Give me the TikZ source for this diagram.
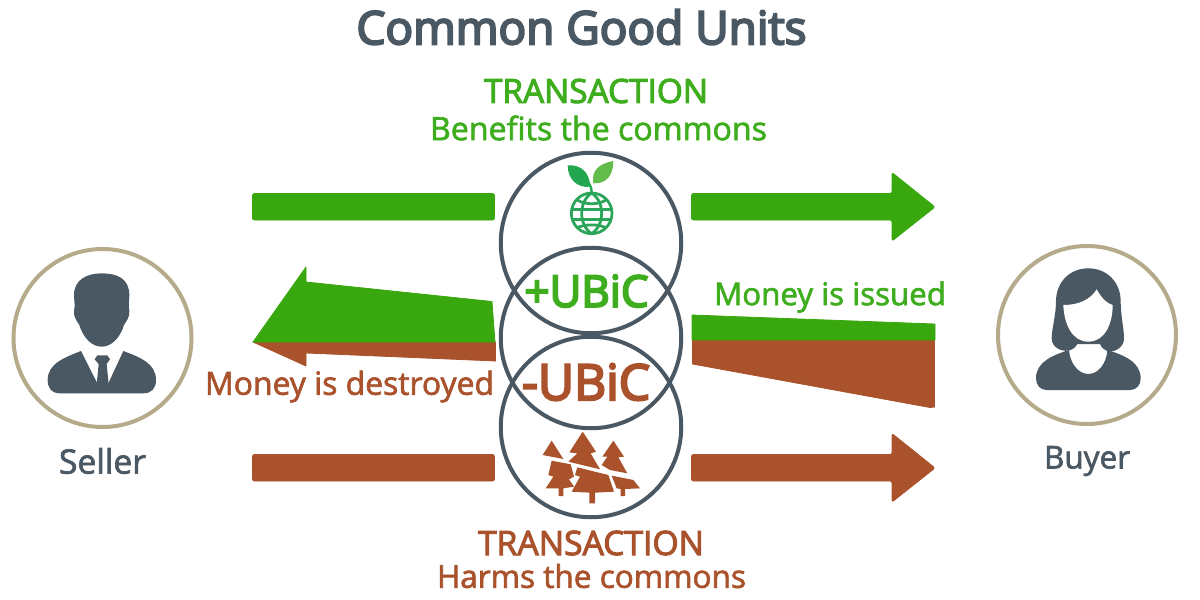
\documentclass[tikz,border=0pt]{standalone}
\usepackage{fontspec}
\usepackage{graphicx}
\setmainfont{Open Sans}
\newfontfamily\medf[FakeBold=2]{Open Sans}
\newfontfamily\semif[FakeBold=3]{Open Sans}
\newfontfamily\boldf[FakeBold=4.5]{Open Sans}
\definecolor{slate}{HTML}{4A5864}
\definecolor{tan}{HTML}{B5AA8A}
\definecolor{gbar}{HTML}{39A80E}
\definecolor{gtxt}{HTML}{3FAE1E}
\definecolor{brn}{HTML}{A9522B}
\definecolor{globeg}{HTML}{2BA55A}
\definecolor{leafa}{HTML}{22A650}
\definecolor{leafb}{HTML}{62BC4C}
\newcommand{\fit}[2]{\resizebox{\dimexpr#1pt*3/4\relax}{!}{#2}}
\tikzset{
  lab/.style={inner sep=0pt,anchor=center},
  ring/.style={draw=slate,line width=3pt,fill=none},
  person/.style={draw=tan,line width=3pt,fill=white},
  gfill/.style={fill=gbar,draw=gbar,line width=.6pt,line join=round},
  bfill/.style={fill=brn,draw=brn,line width=.6pt,line join=round},
}
\begin{document}
\begin{tikzpicture}[x=0.75pt,y=-0.75pt]
\useasboundingbox (0,0) rectangle (1200,600);
\fill[white] (0,0) rectangle (1200,600);
% texts
\node[lab,text=slate] (title) at (581.5,27) {\fit{450}{\boldf Common Good Units}};
\node[lab,text=gtxt] (t1) at (596,91) {\fit{224}{\semif TRANSACTION}};
\node[lab,text=gtxt] (t2) at (598.5,128) {\fit{337}{\medf Benefits the commons}};
\node[lab,text=brn] (t3) at (591,543) {\fit{226}{\semif TRANSACTION}};
\node[lab,text=brn] (t4) at (591.5,576) {\fit{309}{\medf Harms the commons}};
\node[lab,text=gtxt] (issued) at (830,297) {\fit{232}{\medf Money is issued}};
\node[lab,text=brn] (destroyed) at (349.5,386.5) {\fit{289}{\medf Money is destroyed}};
\node[lab,text=slate] (seller) at (102.5,461) {\fit{87}{\medf Seller}};
\node[lab,text=slate] (buyer) at (1087,461) {\fit{86}{\medf Buyer}};
% bars
\fill[gfill,rounded corners=1.5pt] (252.5,193.5) rectangle (494.5,220);
\fill[bfill,rounded corners=1.5pt] (252.5,454.5) rectangle (494.5,481);
\fill[gfill,rounded corners=1.5pt] (691.5,193.5) -- (892,193.5) -- (892,172.5) -- (935,207) -- (892,241) -- (892,220) -- (691.5,220) -- cycle;
\fill[bfill,rounded corners=1.5pt] (691.5,454.5) -- (892,454.5) -- (892,433.5) -- (935,468) -- (892,502) -- (892,481) -- (691.5,481) -- cycle;
% middle left
\fill[bfill] (253,342) -- (495.5,342) -- (495.5,361) -- (306,353) -- (306,366) -- cycle;
\fill[gfill] (253,342) -- (306,267) -- (306,282) -- (492,301.5) -- (495,342) -- cycle;
% middle right
\fill[bfill] (692.5,340) -- (934.5,340) -- (934.5,407) -- (930,407.5) -- (692.5,364) -- cycle;
\fill[gfill] (692,315) -- (935,324) -- (935,340) -- (692,340) -- cycle;
% rings
\node[ring,circle,minimum size=180.5*0.75pt,inner sep=0pt] (c1) at (591,243) {};
\node[ring,circle,minimum size=180.5*0.75pt,inner sep=0pt] (c2) at (591,338) {};
\node[ring,circle,minimum size=180.5*0.75pt,inner sep=0pt] (c3) at (591,427) {};
\node[lab,text=gtxt] (plus) at (586.5,291) {\fit{124}{\boldf +UBiC}};
\node[lab,text=brn] (minus) at (586,382) {\fit{128}{\boldf -UBiC}};
% sprout + globe
\begin{scope}[shift={(500,150)},x=0.25pt,y=-0.25pt]
  \fill[leafa] (203,46) .. controls (245,43) and (270,70) .. (270,110) .. controls (235,115) and (203,90) .. (203,46) -- cycle;
  \fill[leafb] (340,33) .. controls (300,40) and (273,60) .. (280,100) .. controls (320,102) and (340,75) .. (340,33) -- cycle;
  \draw[leafa,line width=1.8pt,line cap=round] (275,128) .. controls (275,110) and (268,100) .. (255,85);
  \begin{scope}[draw=globeg,line width=2.1pt]
    \draw (275,190) circle[radius=61];
    \draw (275,129) .. controls (235,155) and (235,225) .. (275,251);
    \draw (275,129) .. controls (315,155) and (315,225) .. (275,251);
    \draw (232,150) .. controls (255,165) and (295,165) .. (318,150) ;
    \draw (216,178) -- (334,178);
    \draw (216,208) -- (334,208);
    \draw (232,233) .. controls (255,222) and (295,222) .. (318,233);
  \end{scope}
\end{scope}
% trees
\begin{scope}[shift={(500,420)},x=0.25pt,y=-0.25pt,fill=brn]
  \fill (155,62) -- (190,117) -- (128,105) -- cycle;
  \fill (155,122) -- (212,133) -- (222,170) -- (207,178) -- (222,200) -- (190,205) -- (190,228) -- (176,228) -- (176,205) -- (137,205) -- (160,170) -- (145,165) -- cycle;
  \fill (248,35) -- (288,95) -- (272,100) -- (300,148) -- (205,125) -- (232,100) -- (208,97) -- cycle;
  \fill (232,142) -- (325,165) -- (342,215) -- (285,218) -- (285,250) -- (268,250) -- (268,218) -- (215,215) -- (240,170) -- (225,165) -- cycle;
  \fill (340,62) -- (372,110) -- (355,112) -- (382,160) -- (330,150) -- (305,135) -- (322,110) -- (307,110) -- cycle;
  \fill (335,167) -- (400,180) -- (420,205) -- (375,207) -- (375,228) -- (362,228) -- (362,207) -- (350,205) -- cycle;
\end{scope}
% seller
\node[person,circle,minimum size=178*0.75pt,inner sep=0pt] (sc) at (102.5,338) {};
\begin{scope}[shift={(0,240)},x=0.25pt,y=-0.25pt]
  \fill[slate] (305,100) .. controls (350,100) and (388,115) .. (388,165) .. controls (388,185) and (384,198) .. (388,212) .. controls (390,232) and (378,245) .. (372,255) .. controls (358,300) and (330,320) .. (305,320) .. controls (280,320) and (252,300) .. (238,255) .. controls (232,245) and (220,232) .. (222,212) .. controls (226,198) and (222,180) .. (222,165) .. controls (222,120) and (260,100) .. (305,100) -- cycle;
  \fill[slate] (243,333) -- (292,430) -- (325,430) -- (370,333) .. controls (420,352) and (468,370) .. (468,420) .. controls (468,445) and (455,460) .. (430,460) -- (180,460) .. controls (155,460) and (143,445) .. (143,420) .. controls (143,370) and (195,352) .. (243,333) -- cycle;
  \fill[slate] (292,346) -- (322,346) -- (330,358) -- (320,372) -- (326,432) -- (290,432) -- (296,372) -- (284,358) -- cycle;
\end{scope}
% buyer
\node[person,circle,minimum size=178*0.75pt,inner sep=0pt] (bc) at (1087,335) {};
\begin{scope}[shift={(990,240)},x=0.25pt,y=-0.25pt]
  \fill[slate] (295,85) .. controls (350,85) and (390,125) .. (392,180) .. controls (392,230) and (402,265) .. (402,295) .. controls (402,320) and (380,335) .. (355,335) .. controls (345,330) and (335,325) .. (330,312) -- (262,312) .. controls (255,325) and (245,330) .. (235,332) .. controls (210,335) and (185,320) .. (185,295) .. controls (185,265) and (198,230) .. (198,180) .. controls (200,125) and (240,85) .. (295,85) -- cycle;
  \fill[white] (220,195) .. controls (265,195) and (300,180) .. (320,148) .. controls (335,175) and (350,190) .. (368,195) .. controls (368,250) and (345,305) .. (295,305) .. controls (245,305) and (222,250) .. (220,195) -- cycle;
  \fill[slate] (237,330) .. controls (240,370) and (265,402) .. (295,402) .. controls (325,402) and (350,370) .. (352,330) .. controls (400,345) and (452,365) .. (452,415) .. controls (452,435) and (440,450) .. (420,450) -- (170,450) .. controls (150,450) and (138,435) .. (138,415) .. controls (138,365) and (190,345) .. (237,330) -- cycle;
\end{scope}
\end{tikzpicture}
\end{document}
